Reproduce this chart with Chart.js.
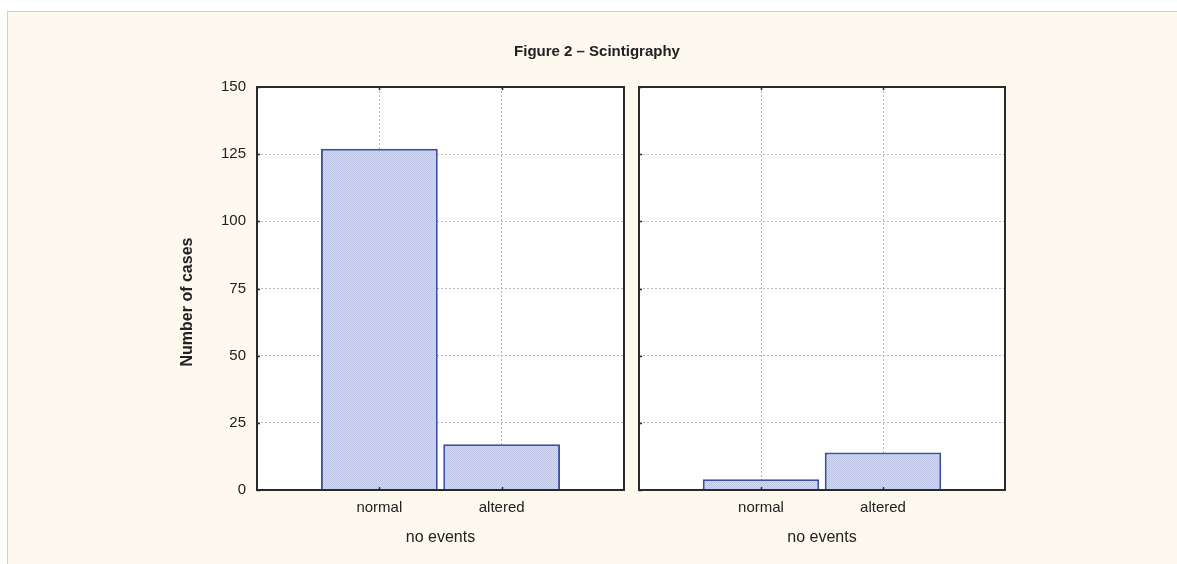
<!DOCTYPE html>
<html>
<head>
<meta charset="utf-8">
<script src="https://cdn.jsdelivr.net/npm/chart.js@4/dist/chart.umd.min.js"></script>
<style>
  html, body { margin: 0; padding: 0; background: #ffffff; }
  #frame {
    position: absolute; left: 7px; top: 11px; width: 1200px; height: 600px;
    background: #fdf9ef; border: 1px solid #cfcfcf;
  }
  canvas { position: absolute; left: 0; top: 0; }
</style>
</head>
<body>
<div id="frame"></div>
<canvas id="panelA" width="1177" height="564"></canvas>
<canvas id="panelB" width="1177" height="564"></canvas>
<script>
// ---- chart content ----
const figureTitle = 'Figure 2 \u2013 Scintigraphy';
const yAxisTitle = 'Number of cases';
const categories = ['normal', 'altered'];
const groupLabels = ['no events', 'no events'];
const leftCounts = [127, 17];
const rightCounts = [4, 14];
const yTickValues = [0, 25, 50, 75, 100, 125, 150];

// ---- page geometry and styling ----
const W = 1177, H = 564;
const FONT = '"Liberation Sans", Arial, Helvetica, sans-serif';
const INK = '#222222';
const areaA = { left: 257, right: 624, top: 87, bottom: 490 };
const areaB = { left: 639, right: 1005, top: 87, bottom: 490 };

// fine two-tone dither used as the bar fill
function makeHatch() {
  const c = document.createElement('canvas');
  c.width = 2; c.height = 2;
  const g = c.getContext('2d');
  g.fillStyle = '#d7dbef'; g.fillRect(0, 0, 2, 2);
  g.fillStyle = '#bcc3e2'; g.fillRect(0, 0, 1, 1); g.fillRect(1, 1, 1, 1);
  return g.createPattern(c, 'repeat');
}
const hatch = makeHatch();

// white plot background, black frame and short inward tick marks
const panelFrame = {
  id: 'panelFrame',
  beforeDraw(chart) {
    const { ctx, chartArea: a } = chart;
    ctx.save();
    ctx.fillStyle = '#ffffff';
    ctx.fillRect(a.left, a.top, a.right - a.left, a.bottom - a.top);
    ctx.restore();
  },
  afterDraw(chart) {
    const { ctx, chartArea: a, scales } = chart;
    ctx.save();
    ctx.strokeStyle = '#2a2a2a';
    ctx.lineWidth = 2;
    ctx.strokeRect(a.left, a.top, a.right - a.left, a.bottom - a.top);
    ctx.lineWidth = 1.5;
    ctx.beginPath();
    scales.y.ticks.forEach(t => {
      const y = Math.round(scales.y.getPixelForValue(t.value)) + 0.5;
      ctx.moveTo(a.left, y); ctx.lineTo(a.left + 3, y);
    });
    categories.forEach(c => {
      const x = Math.round(scales.x.getPixelForValue(c)) + 0.5;
      ctx.moveTo(x, a.bottom); ctx.lineTo(x, a.bottom - 3);
      ctx.moveTo(x, a.top); ctx.lineTo(x, a.top + 3);
    });
    ctx.stroke();
    ctx.restore();
  }
};

// figure heading and the shared vertical axis caption
const figureText = {
  id: 'figureText',
  afterDraw(chart) {
    const { ctx } = chart;
    ctx.save();
    ctx.fillStyle = INK;
    ctx.textAlign = 'center';
    ctx.textBaseline = 'middle';
    ctx.font = 'bold 15px ' + FONT;
    ctx.fillText(figureTitle, 597, 52);
    ctx.translate(188, 302);
    ctx.rotate(-Math.PI / 2);
    ctx.font = 'bold 16px ' + FONT;
    ctx.fillText(yAxisTitle, 0, 0);
    ctx.restore();
  }
};

function panel(id, counts, group, area, showY, extra) {
  const gridColor = '#b9b9b9';
  return new Chart(document.getElementById(id), {
    type: 'bar',
    data: {
      labels: ['', ...categories, ''],
      datasets: [{
        data: [null, ...counts, null],
        backgroundColor: hatch,
        borderColor: '#3d4fa3',
        borderWidth: 2,
        borderSkipped: 'start',
        barPercentage: 0.955,
        categoryPercentage: 1
      }]
    },
    options: {
      responsive: false,
      animation: false,
      devicePixelRatio: 1,
      layout: { padding: { top: area.top, left: showY ? 0 : area.left, right: W - area.right, bottom: 0 } },
      plugins: { legend: { display: false }, tooltip: { enabled: false }, title: { display: false } },
      scales: {
        x: {
          type: 'category',
          offset: false,
          grid: { color: gridColor, lineWidth: 1, drawTicks: false, offset: false },
          border: { display: false, dash: [2, 2] },
          ticks: { font: { family: FONT, size: 15 }, color: INK, padding: 9, autoSkip: false, maxRotation: 0 },
          title: { display: true, text: group, font: { family: FONT, size: 16 }, color: INK, padding: { top: 0, bottom: 17 } },
          afterFit: s => { s.height = H - area.bottom; }
        },
        y: {
          min: yTickValues[0],
          max: yTickValues[yTickValues.length - 1],
          afterBuildTicks: s => { s.ticks = yTickValues.map(v => ({ value: v })); },
          grid: { color: gridColor, lineWidth: 1, drawTicks: false },
          border: { display: false, dash: [2, 2] },
          ticks: { display: showY, font: { family: FONT, size: 15 }, color: INK, padding: 11 },
          afterFit: s => { s.width = showY ? area.left : 0; }
        }
      }
    },
    plugins: [panelFrame, ...extra]
  });
}

panel('panelA', leftCounts, groupLabels[0], areaA, true, [figureText]);
panel('panelB', rightCounts, groupLabels[1], areaB, false, []);
</script>
</body>
</html>
